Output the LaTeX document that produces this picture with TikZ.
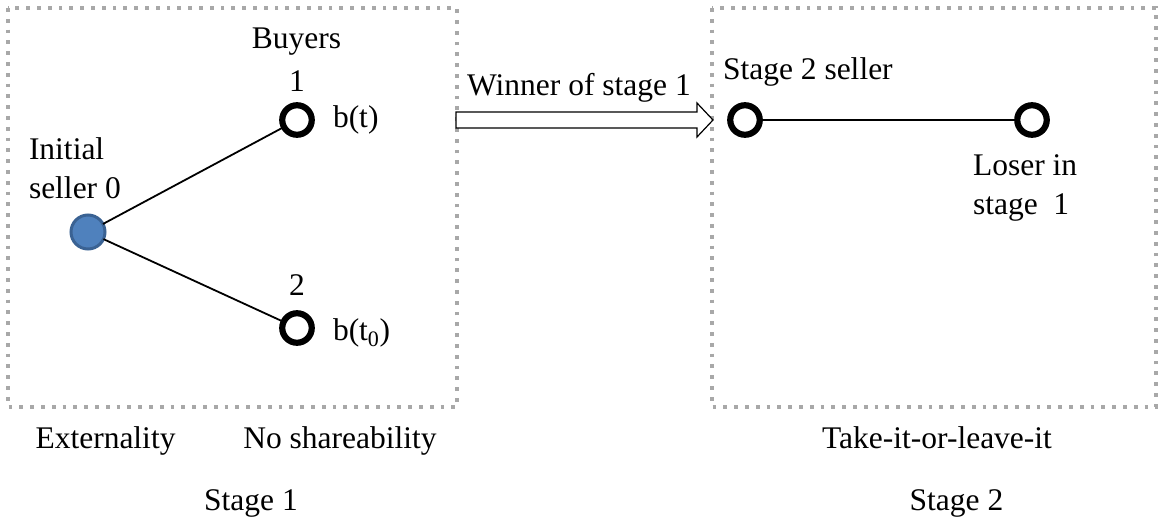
\documentclass[tikz,border=0pt]{standalone}
\usepackage{fontspec}
\setmainfont{Liberation Serif}
\usetikzlibrary{calc}
\definecolor{sellerfill}{HTML}{4F81BD}
\definecolor{sellerline}{HTML}{3A6293}
\definecolor{boxgray}{HTML}{A8A8A8}
\begin{document}
\begin{tikzpicture}[x=1pt,y=-1pt,
  every node/.style={inner sep=0pt,outer sep=0pt,font=\fontsize{31.5}{39}\selectfont},
  boxline/.style={draw=boxgray,line width=3.8pt,dash pattern=on 3.8pt off 7pt},
  buyer/.style={circle,draw=black,line width=6.2pt,minimum size=29.5pt,fill=white},
  seller/.style={circle,draw=sellerline,fill=sellerfill,line width=3pt,minimum size=34pt},
  link/.style={line width=1.8pt},
  lbl/.style={anchor=base west},
  clbl/.style={anchor=base},
  blockarrow/.style={draw=black,line width=1.2pt,fill=white}]
\useasboundingbox (0,0) rectangle (1161,521);
% boxes
\draw[boxline] (8,8) rectangle (457,407);
\draw[boxline] (712,8) rectangle (1156,407);
% stage 1 nodes
\node[seller] (s0) at (88,232) {};
\node[buyer] (b1) at (297,120) {};
\node[buyer] (b2) at (297,328) {};
\draw[link] (s0) -- (b1);
\draw[link] (s0) -- (b2);
\node[clbl] (buyers) at (296.5,49) {Buyers};
\node[clbl] (n1) at (297,92) {1};
\node[clbl] (n2) at (297,295) {2};
\node[lbl] (bt) at (333,128) {b(t)};
\node[lbl] (bt0) at (333,340) {b(t\textsubscript{0})};
\node[anchor=north west,align=left] (init) at (29,138) {Initial\\seller 0};
\node[clbl] (ext) at (105.5,448) {Externality};
\node[clbl] (noshare) at (340,448) {No shareability};
\node[clbl] (st1) at (251,510) {Stage 1};
% arrow
\coordinate (aS) at (456,120);
\coordinate (aE) at (713,120);
\draw[blockarrow] ($(aS)+(0,-8)$) -- ($(aE)+(-16,-8)$) -- ($(aE)+(-16,-17)$) -- (aE)
  -- ($(aE)+(-16,17)$) -- ($(aE)+(-16,8)$) -- ($(aS)+(0,8)$) -- cycle;
\node[clbl] (win) at (579,96) {Winner of stage 1};
% stage 2 nodes
\node[buyer] (t2s) at (745,120) {};
\node[buyer] (los) at (1032,120) {};
\draw[link] (t2s) -- (los);
\node[lbl] (t2lbl) at (723,80) {Stage 2 seller};
\node[anchor=north west,align=left] (loslbl) at (973,155) {Loser in\\stage\ \ 1};
\node[clbl] (take) at (937,448) {Take-it-or-leave-it};
\node[clbl] (st2) at (956.5,510) {Stage 2};
\end{tikzpicture}
\end{document}
